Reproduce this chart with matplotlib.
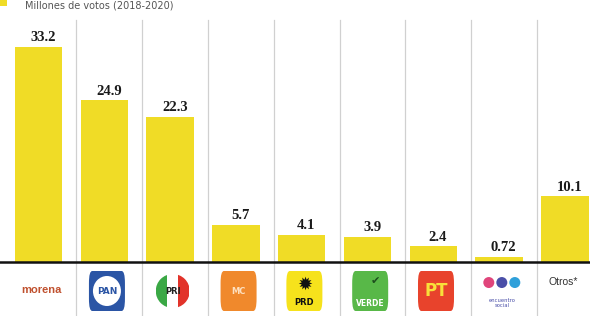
import matplotlib
matplotlib.use("Agg")
import matplotlib.pyplot as plt
from matplotlib.patches import FancyBboxPatch, Circle, Rectangle, Ellipse
from matplotlib.transforms import blended_transform_factory

# ---- data ----
parties = ["morena", "PAN", "PRI", "MC", "PRD", "VERDE", "PT", "PES", "Otros*"]
votes = [33.2, 24.9, 22.3, 5.7, 4.1, 3.9, 2.4, 0.72, 10.1]
labels = ["33.2", "24.9", "22.3", "5.7", "4.1", "3.9", "2.4", "0.72", "10.1"]
subtitle = "Millones de votos (2018-2020)"

BAR = "#f0dc26"

fig = plt.figure(figsize=(5.9, 3.16), dpi=100)
fig.patch.set_facecolor("white")
ax = fig.add_axes([0, 54 / 316, 1, 242 / 316])
ax.set_xlim(-0.585, 8.38)
ax.set_ylim(0, 37.3)
ax.axis("off")

x = list(range(len(parties)))
ax.bar(x, votes, width=0.72, color=BAR, edgecolor="none", zorder=2)

for xi, v, lab in zip(x, votes, labels):
    ax.text(xi + 0.07, v + 0.45, lab, ha="center", va="bottom",
            fontfamily="Liberation Serif", fontweight="bold", fontsize=10.5,
            color="#1a1a1a", zorder=3)

# baseline
ax.axhline(0, color="#111111", lw=1.8, zorder=4, clip_on=False)

tr = blended_transform_factory(ax.transData, ax.transAxes)
PX_X = 65.8   # pixels per x data unit
PX_Y = 242.0  # pixels per axes-y unit
ybot = -54 / 242
# column separators
for xi in x[:-1]:
    ax.plot([xi + 0.575, xi + 0.575], [ybot, 1.0], transform=tr, color="#d0d0d0",
            lw=0.9, clip_on=False, zorder=1)

# logos row
lt, lb = -9 / 242, -49 / 242
lh = lt - lb
lc = (lt + lb) / 2
w = 36 / PX_X


def ell(xc, yc, wpx, hpx, color, z=4):
    e = Ellipse((xc, yc), wpx / PX_X, hpx / PX_Y, transform=tr, facecolor=color,
                edgecolor="none", zorder=z, clip_on=False)
    ax.add_patch(e)
    return e


def box(xc, color, txt=None, tcolor="white", fs=7, ty=None, weight="bold"):
    p = FancyBboxPatch((xc - w / 2, lb), w, lh, boxstyle="round,pad=0,rounding_size=0.05",
                       transform=tr, facecolor=color, edgecolor="none", clip_on=False, zorder=3)
    ax.add_patch(p)
    if txt:
        ax.text(xc, lc if ty is None else ty, txt, transform=tr, ha="center", va="center",
                color=tcolor, fontsize=fs, fontweight=weight, clip_on=False, zorder=5)


off = 0.04
# morena
ax.text(x[0] + off, lc + 0.005, parties[0], transform=tr, ha="center", va="center",
        color="#c0512f", fontsize=8, fontweight="bold", fontfamily="Liberation Sans", zorder=4)
# PAN
box(x[1] + off, "#2b55a5")
ell(x[1] + off, lc, 28, 30, "white")
ax.text(x[1] + off, lc, parties[1], transform=tr, ha="center", va="center",
        color="#2b55a5", fontsize=6.5, fontweight="bold", zorder=5)
# PRI
pc = x[2] + off
clip = ell(pc, lc, 34, 34, "none", z=2)
for dx, c in [(-11, "#3aa845"), (0, "white"), (11, "#e2332a")]:
    r = Rectangle((pc + (dx - 5.7) / PX_X, lc - 18 / PX_Y), 11.4 / PX_X, 36 / PX_Y,
                  transform=tr, facecolor=c, edgecolor="none", zorder=3, clip_on=False)
    ax.add_patch(r)
    r.set_clip_path(clip)
    r.set_clip_box(None)
    r.set_clip_on(True)
ax.text(pc, lc, parties[2], transform=tr, ha="center", va="center",
        color="#222222", fontsize=6, fontweight="bold", zorder=5)
# MC
box(x[3] + off, "#f0892c", parties[3], "#fde0c0", fs=6)
# PRD
box(x[4] + off, "#f6e21c", parties[4], "#111111", fs=6, ty=lb + 0.035)
ax.text(x[4] + off, lc + 0.025, "✹", transform=tr, ha="center", va="center",
        color="#111111", fontsize=13, zorder=4, fontfamily="DejaVu Sans")
# VERDE
box(x[5] + off, "#58b848", parties[5], "white", fs=5.5, ty=lb + 0.03)
ax.text(x[5] + off + 0.08, lt - 0.04, "✔", transform=tr, ha="center", va="center",
        color="#1d4d1d", fontsize=8, zorder=5, fontfamily="DejaVu Sans")
# PT
box(x[6] + off, "#e8432c", parties[6], "#f8e03a", fs=12)
# PES
for dx, c in [(-13, "#e0457b"), (0, "#4a4fa8"), (13, "#2fa0da")]:
    ell(x[7] + off + dx / PX_X, lc + 0.035, 11, 11, c)
ax.text(x[7] + off, lc - 0.05, "encuentro\nsocial", transform=tr, ha="center", va="center",
        color="#4a4fa8", fontsize=3.8, linespacing=0.9, zorder=4)
# Otros
ax.text(x[8] - 0.02, lt - 0.045, parties[8], transform=tr, ha="center", va="center",
        color="#333333", fontsize=7.5, fontfamily="Liberation Sans", zorder=4)

# subtitle and legend swatch at top edge
fig.text(25 / 590, 1.0 - 1 / 316, subtitle, ha="left", va="top", fontsize=7, color="#555555")
fig.patches.append(Rectangle((0, 1 - 6 / 316), 7 / 590, 6 / 316, transform=fig.transFigure,
                             facecolor=BAR, edgecolor="none"))

fig.savefig("out.png", dpi=100, facecolor="white")
